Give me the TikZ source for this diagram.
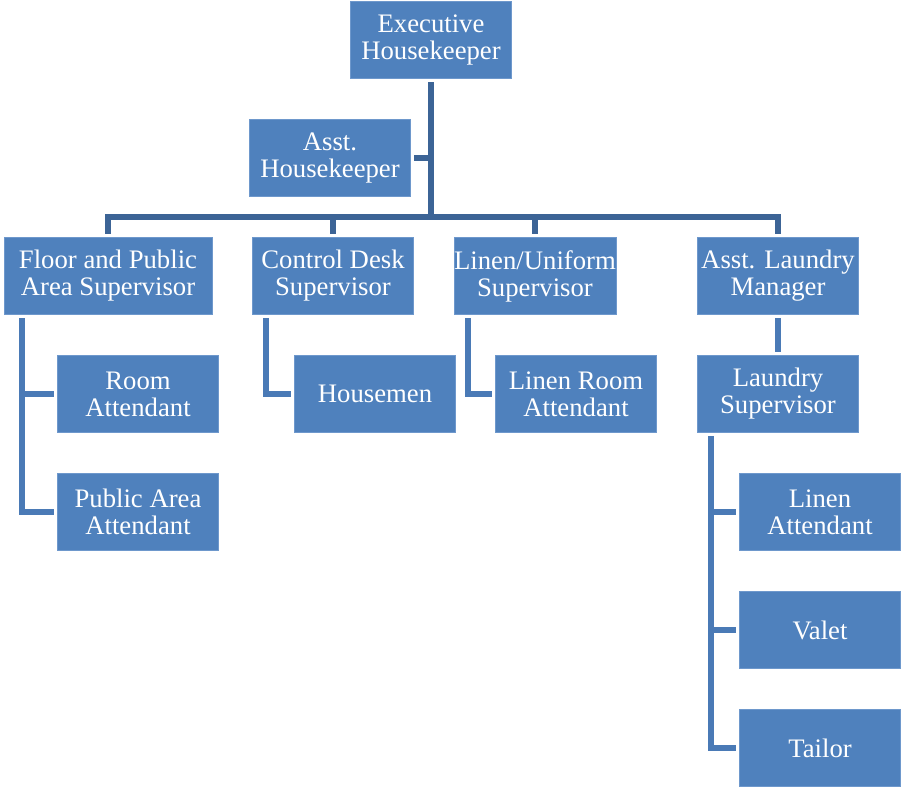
\documentclass[tikz,border=0pt]{standalone}
\usepackage{fontspec}
\setmainfont{Liberation Serif}
\usepackage{tikz}
\usetikzlibrary{positioning,calc}
\definecolor{boxblue}{RGB}{79,129,189}
\definecolor{boxedge}{RGB}{110,152,204}
\definecolor{topline}{RGB}{60,100,150}
\definecolor{subline}{RGB}{74,122,182}

\begin{document}
\begin{tikzpicture}[
 x=0.03cm,y=-0.03cm,
 post/.style={rectangle,draw=boxedge,fill=boxblue,line width=0.4pt,text=white,
   minimum width=4.83cm,minimum height=2.31cm,inner sep=0pt,align=center,
   font=\fontsize{22.8}{23}\selectfont},
 widepost/.style={post,minimum width=6.24cm},
 topconn/.style={draw=topline,line width=4.6pt,line cap=rect,line join=miter},
 subconn/.style={draw=subline,line width=4.6pt,line cap=rect,line join=miter},
 gap/.style={shorten <=5pt,shorten >=5pt}
]
\useasboundingbox (0,0) rectangle (901,788);
% heads
\node[post] (exec) at (431,40) {Executive\\Housekeeper};
\node[post] (asst) at (330,158) {Asst.\\Housekeeper};
% supervisors
\node[widepost] (floor) at (108,276) {Floor and Public\\Area Supervisor};
\node[post] (ctrl) at (333,276) {Control Desk\\Supervisor};
\node[post] (linen) at (535,276) {Linen/Uniform\\Supervisor};
\node[post] (lmgr) at (778,276) {Asst. Laundry\\Manager};
% staff
\node[post] (room) at (138,394) {Room\\Attendant};
\node[post] (pubatt) at (138,512) {Public Area\\Attendant};
\node[post] (housemen) at (375,394) {Housemen};
\node[post] (linroom) at (576,394) {Linen Room\\Attendant};
\node[post] (lsup) at (778,394) {Laundry\\Supervisor};
\node[post] (linatt) at (820,512) {Linen\\Attendant};
\node[post] (valet) at (820,630) {Valet};
\node[post] (tailor) at (820,748) {Tailor};

\coordinate (bar) at (431,217);
\coordinate (spA) at (22,321);
\coordinate (spB) at (266,321);
\coordinate (spC) at (468,321);
\coordinate (spD) at (711,439);

% top level
\draw[topconn,shorten <=5pt] (exec) -- (bar);
\draw[topconn,shorten <=5pt] (asst) -- (asst -| exec);
\draw[topconn,gap] (floor) |- (bar) -| (lmgr);
\foreach \s in {ctrl,linen}{
  \draw[topconn,shorten >=5pt] (bar -| \s) -- (\s);
}
% lower level
\draw[subconn,shorten >=5pt] (spA) |- (pubatt);
\draw[subconn,shorten >=5pt] (spA |- room) -- (room);
\draw[subconn,shorten >=5pt] (spB) |- (housemen);
\draw[subconn,shorten >=5pt] (spC) |- (linroom);
\draw[subconn,gap] (lmgr) -- (lsup);
\draw[subconn,shorten >=5pt] (spD) |- (tailor);
\foreach \s in {linatt,valet}{
  \draw[subconn,shorten >=5pt] (spD |- \s) -- (\s);
}
\end{tikzpicture}
\end{document}
